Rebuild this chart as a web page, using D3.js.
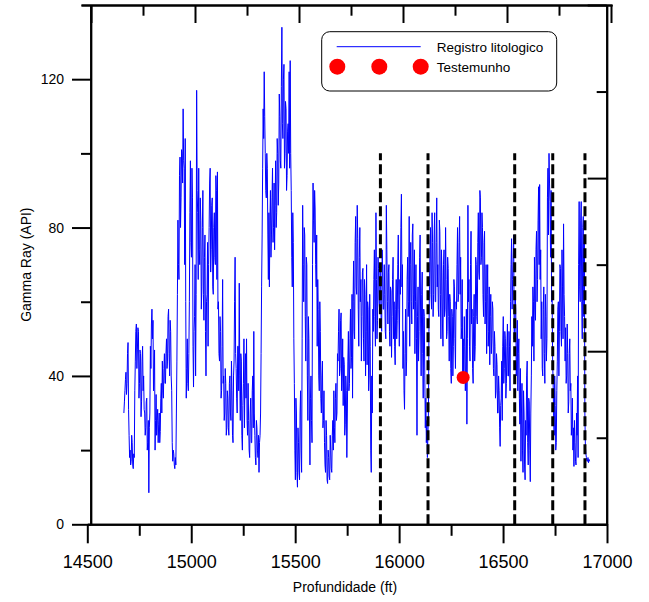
<!DOCTYPE html>
<html>
<head>
<meta charset="utf-8">
<script src="https://cdn.jsdelivr.net/npm/d3@7"></script>
<style>
  html, body { margin: 0; padding: 0; background: #ffffff; }
  svg { display: block; }
  text { font-family: "Liberation Sans", Arial, sans-serif; fill: #000; }
</style>
</head>
<body>
<svg id="chart" width="649" height="602"></svg>
<script>
// ---------------- DATA ----------------
// Gamma ray log sampled every 2.5 ft starting at 14676 ft
const depthStart = 14676;
const depthStep = 2.5;
const gammaRay = [
  30,33, 36,39, 41,35, 38,46, 49,31, 24,18, 20,16, 17,24, 22,16, 15,19,
  18,36, 44,52, 54,42, 47,53, 52,34, 38,47, 46,29, 33,44, 48,36, 40,31,
  30,24, 26,33, 34,20, 22,28, 8.5,26, 30,48, 42,54, 58,50, 55,36, 40,47,
  20,28, 35,24, 28,31, 22,27, 30,22, 25,34, 38,30, 44,36, 34,42, 46,38,
  38,46, 50,42, 44,56, 58,46, 40,55, 52,40, 36,22, 17,20, 19,16, 15,18,
  16,30, 44,62, 82,70, 66,94, 99,80, 88,101, 100,92, 112,98, 96,70, 104,60,
  34,42, 50,38, 36,46, 60,84, 98,76, 72,96, 88,48, 37,52, 56,70, 40,62,
  117,90, 84,66, 96,74, 70,88, 82,58, 64,80, 90,62, 55,72, 78,52, 40,60,
  62,76, 48,70, 80,92, 96,68, 74,86, 88,64, 62,80, 84,72, 70,94, 90,66,
  95,58, 60,46, 44,56, 52,34, 36,48, 66,38, 40,28, 30,42, 38,24, 26,36,
  34,26, 24,38, 40,30, 28,44, 36,24, 22,40, 44,60, 72,46, 42,34, 30,48,
  48,36, 65,40, 28,46, 44,24, 20,32, 38,50, 26,40, 46,34, 50,28, 24,38,
  28,20, 18,30, 34,22, 22,36, 40,26, 52,30, 24,18, 16,28, 26,20, 18,24,
  14,22, 24,30, 46,64, 78,96, 112,104, 122,110, 100,90, 88,100, 96,78, 66,84,
  64,82, 90,72, 78,88, 96,76, 80,92, 74,86, 98,80, 84,104, 100,86, 92,116,
  110,98, 96,118, 134,108, 104,120, 124,96, 100,114, 112,90, 94,106, 108,100, 122,96,
  125,100, 90,72, 64,84, 76,50, 38,20, 12,34, 30,14, 10,26, 22,14, 12,30,
  36,20, 14,50, 86,70, 60,80, 78,56, 44,72, 70,40, 28,56, 50,30, 16,34,
  40,28, 22,70, 92,82, 76,90, 85,70, 64,78, 48,66, 58,40, 36,60, 52,34,
  30,40, 44,26, 28,36, 22,16, 14,28, 24,12, 11,20, 18,13, 12,24, 20,15,
  14,24, 28,20, 36,26, 22,34, 38,28, 30,46, 44,52, 58,40, 42,55, 57,36,
  40,50, 32,45, 43,24, 27,40, 36,18, 30,44, 52,36, 38,50, 58,42, 45,62,
  34,60, 71,52, 50,76, 83,64, 62,86, 77,58, 48,72, 80,60, 66,44, 56,68,
  69,50, 44,66, 62,40, 52,70, 43,60, 58,36, 40,62, 48,20, 14,40, 30,58,
  52,66, 74,56, 48,84, 66,50, 55,72, 69,60, 58,70, 64,55, 52,74, 68,58,
  58,70, 62,52, 50,86, 74,60, 54,68, 70,52, 48,64, 63,45, 56,66, 72,50,
  60,48, 43,58, 66,50, 55,70, 78,58, 48,66, 62,80, 89,64, 70,42, 52,36,
  31,46, 58,40, 44,66, 72,56, 60,83, 48,70, 76,60, 54,78, 81,58, 62,74,
  46,60, 70,50, 24,56, 64,44, 52,72, 78,54, 40,62, 68,46, 34,58, 56,40,
  26,34, 22,28, 18,24, 30,52, 64,74, 80,62, 58,84, 76,56, 62,78, 84,60,
  60,76, 88,64, 70,58, 56,82, 79,62, 50,74, 68,54, 48,70, 74,56, 58,80,
  66,50, 52,72, 69,56, 44,62, 60,42, 38,58, 56,40, 48,66, 64,50, 42,60,
  58,70, 80,60, 62,76, 83,62, 72,50, 53,66, 40,50, 38,56, 48,36, 44,58,
  27,50, 86,60, 66,48, 44,70, 79,54, 58,42, 38,56, 62,44, 48,72, 70,56,
  54,76, 84,68, 66,90, 88,70, 72,84, 80,62, 56,76, 79,54, 60,70, 46,62,
  70,48, 52,64, 43,56, 62,46, 50,60, 58,42, 40,52, 48,34, 36,46, 43,30,
  30,40, 36,26, 21,32, 34,44, 28,48, 56,38, 42,52, 50,34, 38,48, 54,40,
  40,52, 48,36, 60,70, 77,58, 66,72, 78,50, 52,62, 58,40, 44,55, 36,46,
  50,34, 27,42, 17,30, 38,20, 14,36, 30,16, 12,28, 24,40, 44,22, 16,34,
  33,20, 11.5,30, 40,56, 48,64, 60,44, 72,58, 55,74, 79,60, 66,82, 91,70,
  91.6,66, 74,50, 60,42, 40,58, 64,46, 38,62, 56,44, 50,88, 96,78, 100,92,
  87,72, 90,60, 62,44, 38,28, 24,40, 32,20, 22,36, 44,58, 60,40, 52,70,
  69,52, 48,74, 64,50, 81,62, 56,44, 53,38, 40,54, 46,30, 33,46, 50,36,
  38,24, 27,34, 20,26, 15.6,28, 22,17, 16,30, 24,40, 18,70, 87,64, 60,82,
  87,60, 50,80, 83,56, 78,30, 21,19, 18,17, 17,18, 16.6,17.5, 17
];
// Core sample ("Testemunho")
const coreDepths = [16308];
const coreGR = [39.6];
// Dashed boundary lines (depths, ft) and their top value
const boundaryDepths = [15910, 16139, 16556, 16739, 16894];
const boundaryTop = 100;
// Tick labels
const xTickValues = [14500, 15000, 15500, 16000, 16500, 17000];
const xMinorTicks = [14750, 15250, 15750, 16250, 16750];
const yTickValues = [0, 40, 80, 120];
const yMinorTicks = [20, 60, 100];
const legendLabels = ["Registro litologico", "Testemunho"];
const xTitle = "Profundidade (ft)";
const yTitle = "Gamma Ray (API)";

// ---------------- LAYOUT ----------------
const svg = d3.select("#chart");
const x = d3.scaleLinear().domain([14500, 17000]).range([87.3, 607]);
const y = d3.scaleLinear().domain([0, 140]).range([524.3, 5]);
const leftAxisX = 90.7;
const rightAxisX = 606.7;
// top frame axis is offset a few pixels from the bottom one
const pxPerFt = (x.range()[1] - x.range()[0]) / (x.domain()[1] - x.domain()[0]);
const xTop = d3.scaleLinear()
  .domain([14500 - 10 / pxPerFt, 17000 + 1 / pxPerFt])
  .range([81, 612]);
// right frame axis (unlabelled, 6 intervals)
const yRight = d3.scaleLinear().domain([0, 6]).range([y(0), y(140)]);

const data = gammaRay.map((v, i) => ({ depth: depthStart + i * depthStep, gr: v }));

// ---------------- DATA LINE ----------------
const line = d3.line().x(d => x(d.depth)).y(d => y(d.gr));
svg.append("path")
  .datum(data)
  .attr("d", line)
  .attr("fill", "none")
  .attr("stroke", "#0000ff")
  .attr("stroke-width", 1);

// ---------------- DASHED BOUNDARIES ----------------
svg.append("g").selectAll("line")
  .data(boundaryDepths)
  .join("line")
  .attr("x1", d => x(d)).attr("x2", d => x(d))
  .attr("y1", y(0)).attr("y2", y(boundaryTop))
  .attr("stroke", "#000")
  .attr("stroke-width", 3)
  .attr("stroke-dasharray", "10,4");

// ---------------- CORE POINT ----------------
svg.append("g").selectAll("circle")
  .data(coreDepths.map((d, i) => ({ depth: d, gr: coreGR[i] })))
  .join("circle")
  .attr("cx", d => x(d.depth))
  .attr("cy", d => y(d.gr))
  .attr("r", 6.5)
  .attr("fill", "#ff0000");

// ---------------- AXES ----------------
function styleAxis(g) {
  g.selectAll(".domain").attr("stroke", "#000").attr("stroke-width", 2);
  g.selectAll(".tick line").attr("stroke", "#000").attr("stroke-width", 2);
}

// bottom
const gBottom = svg.append("g").attr("transform", `translate(0,${y(0)})`)
  .call(d3.axisBottom(x).tickValues(xTickValues).tickSize(19).tickSizeOuter(0).tickPadding(12).tickFormat(d3.format("d")))
  .call(styleAxis);
gBottom.selectAll("text").style("font-size", "18px").style("font-family", '"Liberation Sans", Arial, sans-serif');
svg.append("g").attr("transform", `translate(0,${y(0)})`)
  .call(d3.axisBottom(x).tickValues(xMinorTicks).tickSize(11.5).tickSizeOuter(0).tickFormat(""))
  .call(styleAxis);

// left
const gLeft = svg.append("g").attr("transform", `translate(${leftAxisX},0)`)
  .call(d3.axisLeft(y).tickValues(yTickValues).tickSize(18.7).tickSizeOuter(0).tickPadding(8))
  .call(styleAxis);
gLeft.selectAll("text").style("font-size", "14px").style("font-family", '"Liberation Sans", Arial, sans-serif');
svg.append("g").attr("transform", `translate(${leftAxisX},0)`)
  .call(d3.axisLeft(y).tickValues(yMinorTicks).tickSize(9.7).tickSizeOuter(0).tickFormat(""))
  .call(styleAxis);

// top (ticks inward)
svg.append("g").attr("transform", `translate(0,${y(140)})`)
  .call(d3.axisBottom(xTop).tickValues(xTickValues).tickSize(18).tickSizeOuter(0).tickFormat(""))
  .call(styleAxis);
svg.append("g").attr("transform", `translate(0,${y(140)})`)
  .call(d3.axisBottom(xTop).tickValues(xMinorTicks).tickSize(10.7).tickSizeOuter(0).tickFormat(""))
  .call(styleAxis);

// right (ticks inward)
svg.append("g").attr("transform", `translate(${rightAxisX},0)`)
  .call(d3.axisLeft(yRight).tickValues([0, 2, 4, 6]).tickSize(19).tickSizeOuter(0).tickFormat(""))
  .call(styleAxis);
svg.append("g").attr("transform", `translate(${rightAxisX},0)`)
  .call(d3.axisLeft(yRight).tickValues([1, 3, 5]).tickSize(10).tickSizeOuter(0).tickFormat(""))
  .call(styleAxis);

// ---------------- TITLES ----------------
svg.append("text")
  .attr("x", 345).attr("y", 592)
  .attr("text-anchor", "middle")
  .style("font-size", "14px")
  .text(xTitle);
svg.append("text")
  .attr("transform", `translate(30.5,${(y(0) + y(140)) / 2}) rotate(-90)`)
  .attr("text-anchor", "middle")
  .style("font-size", "14px")
  .text(yTitle);

// ---------------- LEGEND ----------------
const lg = svg.append("g");
lg.append("rect")
  .attr("x", 321.7).attr("y", 31.7)
  .attr("width", 235).attr("height", 59.3)
  .attr("rx", 8).attr("ry", 8)
  .attr("fill", "#fff").attr("stroke", "#000").attr("stroke-width", 1);
lg.append("line")
  .attr("x1", 336.7).attr("x2", 420.7)
  .attr("y1", 46.7).attr("y2", 46.7)
  .attr("stroke", "#0000ff").attr("stroke-width", 1);
lg.selectAll("circle.leg")
  .data([337.3, 379.3, 420.7])
  .join("circle")
  .attr("class", "leg")
  .attr("cx", d => d).attr("cy", 66.7).attr("r", 8)
  .attr("fill", "#ff0000");
lg.selectAll("text")
  .data(legendLabels)
  .join("text")
  .attr("x", 436.7)
  .attr("y", (d, i) => i === 0 ? 51.7 : 71.7)
  .style("font-size", "13.5px")
  .text(d => d);
</script>
</body>
</html>
